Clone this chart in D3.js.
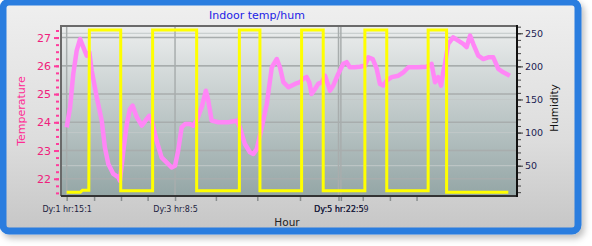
<!DOCTYPE html>
<html>
<head>
<meta charset="utf-8">
<script src="https://cdnjs.cloudflare.com/ajax/libs/d3/7.8.5/d3.min.js"></script>
<style>
  html, body { margin: 0; padding: 0; background: #ffffff; }
  svg { display: block; }
</style>
</head>
<body>
<div id="chart"></div>
<script>
// =================================== DATA ===================================

// temperature series (hours since Dy:0 00:00, degrees)
const tempHours = [15.0, 16.3, 17.5, 18.8, 20.1, 21.3, 22.6, 23.6, 24.5, 26.4, 28.3, 29.5, 30.8, 32.7, 34.6, 35.2,
  36.5, 37.8, 39.0, 40.0, 41.6, 43.5, 45.4, 46.3, 47.3, 49.1, 51.0, 52.9, 54.8, 56.1, 57.3, 58.6, 59.9, 61.8,
  63.0, 64.3, 66.2, 67.8, 68.7, 70.0, 72.5, 76.3, 79.5, 80.7, 82.6, 84.5, 85.8, 87.1, 89.0, 90.9, 92.8, 94.7,
  95.9, 97.2, 99.1, 101.6, 103.5, 104.7, 106.0, 107.0, 107.9, 109.2, 110.4, 111.7, 113.0, 113.8, 114.9, 116.1,
  118.0, 119.9, 121.2, 122.4, 124.3, 126.2, 128.1, 129.4, 131.1, 132.6, 133.8, 135.1, 136.4, 138.3, 140.8,
  142.7, 144.6, 145.8, 148.3, 151.5, 153.4, 154.7, 155.9, 157.0, 157.8, 158.5, 159.7, 161.6, 163.5, 165.4,
  166.7, 168.0, 169.2, 171.1, 173.0, 174.9, 176.8, 178.7, 180.6, 183.1]
const tempValues = [23.82, 24.53, 25.71, 26.54, 26.95, 26.66, 26.36, 26.48, 25.83, 24.89, 24.06, 23.11, 22.52, 22.17, 22.05, 21.93,
  22.99, 23.94, 24.47, 24.59, 24.18, 23.88, 24.12, 24.23, 24.06, 23.35, 22.76, 22.58, 22.40, 22.46, 23.0, 23.82, 23.94, 23.94,
  23.88, 24.06, 24.53, 25.12, 24.77, 24.06, 24.0, 24.0, 24.06, 23.82, 23.23, 22.94, 22.88, 23.05, 23.82, 24.65, 25.95, 26.24,
  25.95, 25.42, 25.24, 25.36, 25.42, 25.54, 25.60, 25.42, 25.0, 25.18, 25.36, 25.42, 25.65, 25.42, 25.12, 25.30,
  25.71, 26.07, 26.13, 25.95, 25.95, 25.97, 26.0, 26.30, 26.24, 25.89, 25.36, 25.30, 25.48, 25.60, 25.65,
  25.77, 25.95, 25.95, 25.95, 25.97, 26.07, 25.42, 25.60, 25.30, 25.77, 26.07, 26.78, 27.01, 26.89, 26.78,
  26.66, 27.07, 26.78, 26.36, 26.24, 26.30, 26.30, 25.89, 25.77, 25.65]

// humidity series (same time base)
const humHours = [15.0, 20.2, 21.0, 23.4, 23.6, 35.5, 35.5, 47.6, 47.6, 64.3, 64.3, 80.5, 80.5, 88.3, 88.3,
  104.1, 104.1, 112.3, 112.3, 128.1, 128.1, 136.4, 136.4, 152.1, 152.1, 159.1, 159.1, 182.5]
const humValues = [10, 10, 13, 13, 255, 255, 12, 12, 255, 255, 12, 12, 255, 255, 12,
  12, 255, 255, 12, 12, 255, 255, 12, 12, 255, 255, 10, 10]

// x axis ticks (hours) and their labels
const xTickHours = [15.0, 25.4, 35.6, 45.7, 56.1, 71.6, 87.3, 103.5, 118.1, 119.0, 127.3, 137.6, 147.7]
const xTickLabels = ['Dy:1 hr:15:1', '', '', '', 'Dy:3 hr:8:5', '', '', '', 'Dy:5 hr:22:5', 'Dy:5 hr:22:59', '', '', '']

const tempTicks = [22, 23, 24, 25, 26, 27]
const humTicks = [50, 100, 150, 200, 250]

// =================================== GRAPH SETTINGS ===================================

const width = 592
const height = 246
const plot = { left: 61, top: 26, right: 517, bottom: 196 }

const x = d3.scaleLinear().domain([12.85, 185.8]).range([plot.left, plot.right])
const yTemp = d3.scaleLinear().domain([21.39, 27.41]).range([plot.bottom, plot.top])
const yHum = d3.scaleLinear().domain([4.2, 261]).range([plot.bottom, plot.top])

const svg = d3.select('#chart').append('svg')
  .attr('width', width)
  .attr('height', height)

const defs = svg.append('defs')

const panelGrad = defs.append('linearGradient')
  .attr('id', 'panelGrad').attr('x1', 0).attr('y1', 0).attr('x2', 0).attr('y2', 1)
panelGrad.append('stop').attr('offset', '0%').attr('stop-color', '#efefef')
panelGrad.append('stop').attr('offset', '60%').attr('stop-color', '#dddddd')
panelGrad.append('stop').attr('offset', '100%').attr('stop-color', '#c6c6c6')

const plotGrad = defs.append('linearGradient')
  .attr('id', 'plotGrad').attr('x1', 0).attr('y1', 0).attr('x2', 0).attr('y2', 1)
plotGrad.append('stop').attr('offset', '0%').attr('stop-color', '#eceeee')
plotGrad.append('stop').attr('offset', '35%').attr('stop-color', '#cdd4d4')
plotGrad.append('stop').attr('offset', '100%').attr('stop-color', '#94a6a6')

defs.append('filter').attr('id', 'shadow')
  .attr('x', '-5%').attr('y', '-5%').attr('width', '115%').attr('height', '120%')
  .append('feDropShadow')
  .attr('dx', 3).attr('dy', 4).attr('stdDeviation', 3)
  .attr('flood-color', '#000').attr('flood-opacity', 0.25)

// =================================== FRAME ===================================

svg.append('rect')
  .attr('x', 3).attr('y', 2)
  .attr('width', 575).attr('height', 229)
  .attr('rx', 6)
  .attr('fill', 'url(#panelGrad)')
  .attr('stroke', '#2a7ddf')
  .attr('stroke-width', 7)
  .attr('filter', 'url(#shadow)')

svg.append('rect')
  .attr('x', plot.left).attr('y', plot.top)
  .attr('width', plot.right - plot.left).attr('height', plot.bottom - plot.top)
  .attr('fill', 'url(#plotGrad)')

// =================================== GRID ===================================

const grid = svg.append('g').attr('class', 'grid')

grid.selectAll('.hgridHum')
  .data(humTicks)
  .enter().append('line')
  .attr('x1', plot.left).attr('x2', plot.right)
  .attr('y1', d => yHum(d)).attr('y2', d => yHum(d))
  .attr('stroke', '#c2c8c8')
  .attr('stroke-width', 1)

grid.selectAll('.hgridTemp')
  .data(tempTicks)
  .enter().append('line')
  .attr('x1', plot.left).attr('x2', plot.right)
  .attr('y1', d => yTemp(d)).attr('y2', d => yTemp(d))
  .attr('stroke', '#a8adad')
  .attr('stroke-width', 1.5)

grid.selectAll('.vgrid')
  .data(xTickHours.filter((d, i) => xTickLabels[i] !== ''))
  .enter().append('line')
  .attr('x1', d => x(d)).attr('x2', d => x(d))
  .attr('y1', plot.top).attr('y2', plot.bottom)
  .attr('stroke', '#a8adad')
  .attr('stroke-width', 1.5)

// =================================== LINES ===================================

const tempLine = d3.line()
  .x(d => x(d[0]))
  .y(d => yTemp(d[1]))

const humLine = d3.line()
  .x(d => x(d[0]))
  .y(d => yHum(d[1]))

svg.append('path')
  .datum(d3.zip(tempHours, tempValues))
  .attr('d', tempLine)
  .attr('fill', 'none')
  .attr('stroke', '#ff86f6')
  .attr('stroke-width', 4.5)
  .attr('stroke-linejoin', 'round')

svg.append('path')
  .datum(d3.zip(humHours, humValues))
  .attr('d', humLine)
  .attr('fill', 'none')
  .attr('stroke', '#ffff00')
  .attr('stroke-width', 3)

// plot border
svg.append('path')
  .attr('d', `M${plot.left},${plot.bottom}V${plot.top}H${plot.right}`)
  .attr('fill', 'none').attr('stroke', '#6a6a6a').attr('stroke-width', 2)
svg.append('line')
  .attr('x1', plot.left).attr('x2', plot.right + 1)
  .attr('y1', plot.bottom).attr('y2', plot.bottom)
  .attr('stroke', '#333').attr('stroke-width', 2)
svg.append('line')
  .attr('x1', plot.right).attr('x2', plot.right)
  .attr('y1', plot.top - 1).attr('y2', plot.bottom + 1)
  .attr('stroke', '#111').attr('stroke-width', 2)

// =================================== AXES ===================================

// left axis : temperature
const leftAxis = svg.append('g')
  .attr('transform', `translate(${plot.left - 2},0)`)
  .call(d3.axisLeft(yTemp).tickValues(d3.range(21.5, 27.41, 0.25)).tickSize(3).tickFormat(''))
leftAxis.select('.domain').remove()
leftAxis.selectAll('line').attr('stroke', '#ff3c9c').attr('stroke-width', 2)

const leftMajor = svg.append('g')
  .attr('transform', `translate(${plot.left - 2},0)`)
  .call(d3.axisLeft(yTemp).tickValues(tempTicks).tickSize(5).tickPadding(3).tickFormat(d3.format('d')))
leftMajor.select('.domain').remove()
leftMajor.selectAll('line').attr('stroke', '#ff3c9c').attr('stroke-width', 2)
leftMajor.selectAll('text')
  .attr('fill', '#f0207c')
  .style('font-family', 'DejaVu Sans, sans-serif')
  .style('font-size', '11px')

// right axis : humidity
const rightMinor = svg.append('g')
  .attr('transform', `translate(${plot.right + 1},0)`)
  .call(d3.axisRight(yHum).tickValues(d3.range(10, 261, 10)).tickSize(3).tickFormat(''))
rightMinor.select('.domain').remove()
rightMinor.selectAll('line').attr('stroke', '#444').attr('stroke-width', 1)

const rightMajor = svg.append('g')
  .attr('transform', `translate(${plot.right + 1},0)`)
  .call(d3.axisRight(yHum).tickValues(humTicks).tickSize(5).tickPadding(2))
rightMajor.select('.domain').remove()
rightMajor.selectAll('line').attr('stroke', '#333').attr('stroke-width', 1)
rightMajor.selectAll('text')
  .attr('fill', '#1c2252')
  .style('font-family', 'DejaVu Sans, sans-serif')
  .style('font-size', '9.5px')

// bottom axis : hour
const bottomAxis = svg.append('g')
  .attr('transform', `translate(0,${plot.bottom + 1})`)
  .call(d3.axisBottom(x).tickValues(xTickHours).tickSize(4).tickPadding(5)
    .tickFormat((d, i) => xTickLabels[i]))
bottomAxis.select('.domain').remove()
bottomAxis.selectAll('line').attr('stroke', '#8a8f8f').attr('stroke-width', 1.5)
bottomAxis.selectAll('text')
  .attr('fill', '#1c2240')
  .style('font-family', 'DejaVu Sans, sans-serif')
  .style('font-size', '8px')

// =================================== LABELS ===================================

svg.append('text')
  .attr('x', 257).attr('y', 18.5)
  .attr('text-anchor', 'middle')
  .attr('fill', '#2222e6')
  .style('font-family', 'DejaVu Sans, sans-serif')
  .style('font-size', '11px')
  .text('Indoor temp/hum')

svg.append('text')
  .attr('transform', 'translate(25,111) rotate(-90)')
  .attr('text-anchor', 'middle')
  .attr('fill', '#ff2a94')
  .style('font-family', 'DejaVu Sans, sans-serif')
  .style('font-size', '11px')
  .text('Temperature')

svg.append('text')
  .attr('transform', 'translate(558,108) rotate(-90)')
  .attr('text-anchor', 'middle')
  .attr('fill', '#111')
  .style('font-family', 'DejaVu Sans, sans-serif')
  .style('font-size', '10.5px')
  .text('Humidity')

svg.append('text')
  .attr('x', 287).attr('y', 226)
  .attr('text-anchor', 'middle')
  .attr('fill', '#222')
  .style('font-family', 'DejaVu Sans, sans-serif')
  .style('font-size', '10.5px')
  .text('Hour')
</script>
</body>
</html>
